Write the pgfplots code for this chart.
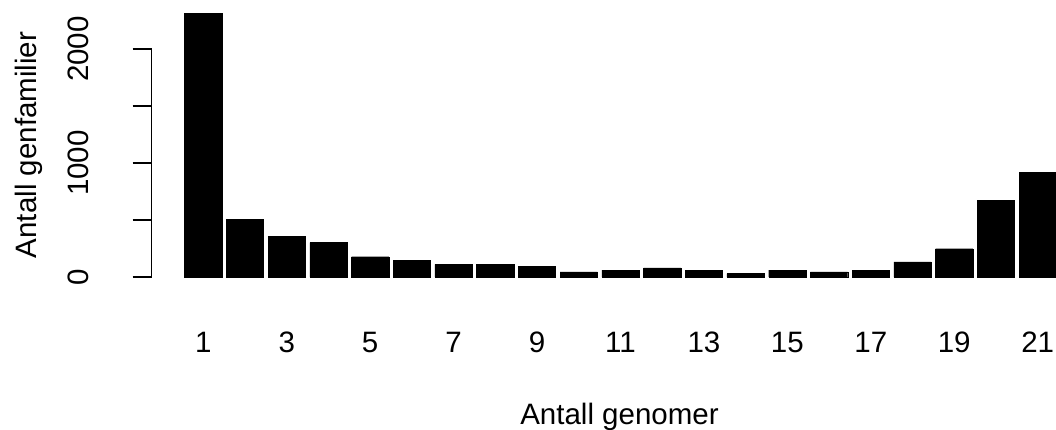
\documentclass[border=0pt]{standalone}
\usepackage{fontspec}
\setmainfont{Liberation Sans}
\usepackage{pgfplots}
\pgfplotsset{compat=1.18}
\begin{document}
\fontsize{29.5}{34}\selectfont
\begin{tikzpicture}
\useasboundingbox (0pt,0pt) rectangle (1056pt,-430pt);
\begin{axis}[
  at={(151.7pt,-277pt)}, anchor=south west,
  scale only axis, width=904.6pt, height=228pt,
  xmin=-0.237, xmax=21.447, ymin=0, ymax=2000,
  clip=false,
  axis lines=left,
  x axis line style={draw=none},
  y axis line style={-, line width=1.5pt},
  xtick={1,3,...,21},
  major x tick style={draw=none},
  ytick={0,500,...,2000},
  yticklabels={0,,1000,,2000},
  major y tick style={line width=1.5pt, black},
  tick align=outside,
  major tick length=19pt,
  /pgf/number format/assume math mode=true,
  xticklabel style={anchor=base, yshift=-56.5pt, inner sep=0pt},
  yticklabel style={rotate=90, anchor=base, yshift=43.7pt, inner sep=0pt},
  xlabel={Antall genomer},
  ylabel={Antall genfamilier},
  xlabel style={at={(axis description cs:0.5171,-0.649)}, anchor=base, inner sep=0pt},
  ylabel style={at={(axis description cs:-0.1268,0.579)}, anchor=base, inner sep=0pt},
]
\addplot[ybar, bar width=0.894, fill=black, draw=black] coordinates {
(1,2313) (2,506) (3,354) (4,301) (5,178) (6,146) (7,111) (8,111) (9,94) (10,44)
(11,61) (12,79) (13,61) (14,29) (15,61) (16,46) (17,61) (18,132) (19,248) (20,675) (21,915)
};
\end{axis}
\end{tikzpicture}
\end{document}
